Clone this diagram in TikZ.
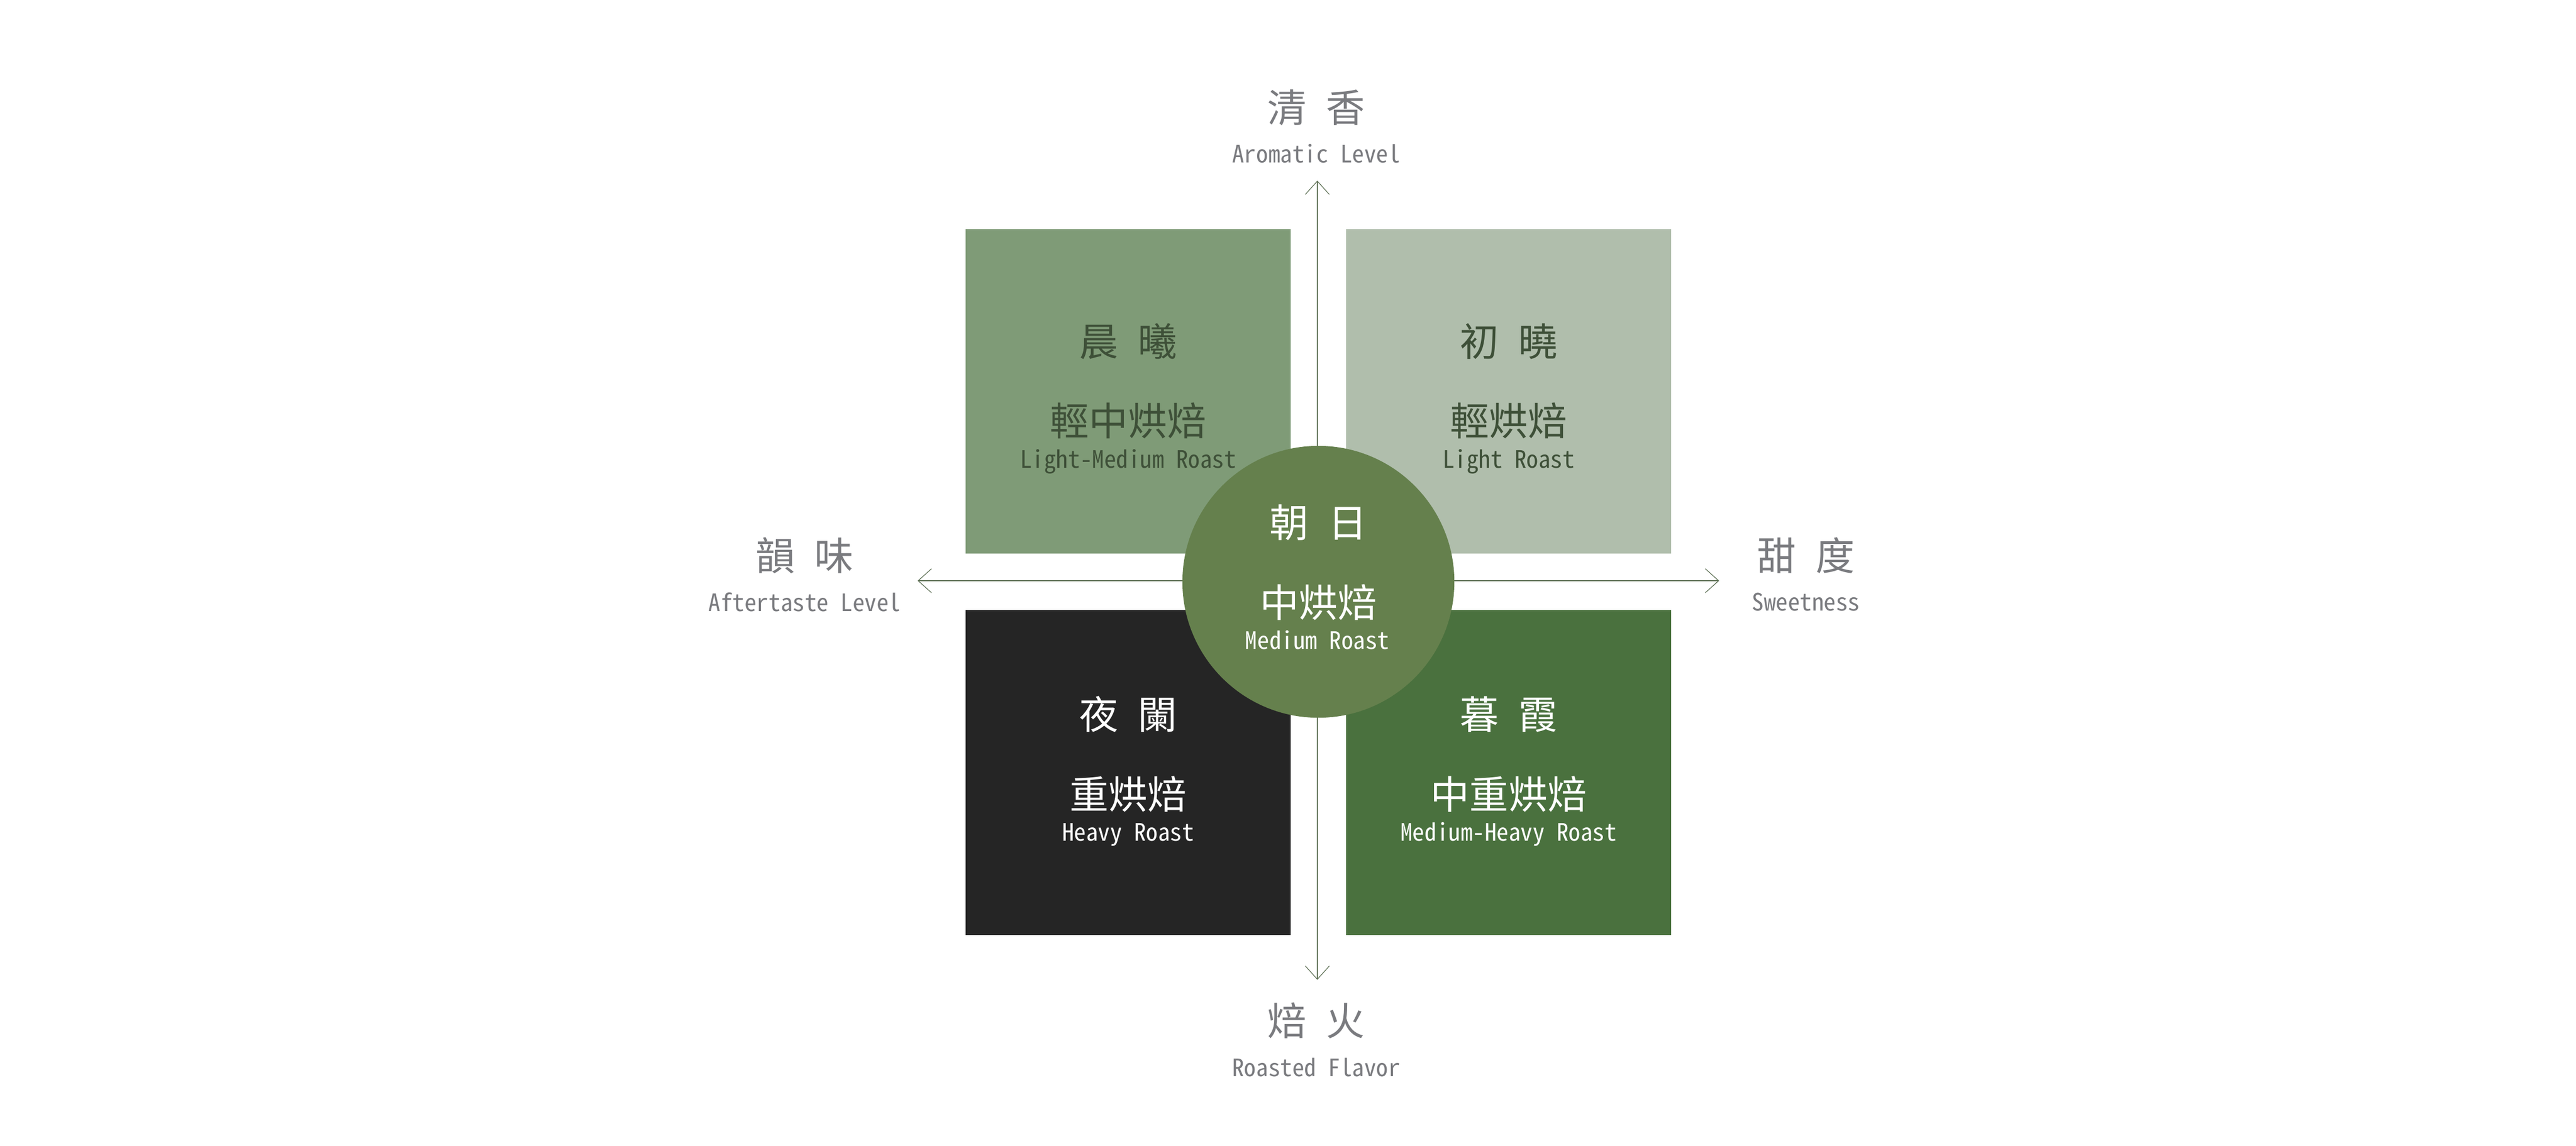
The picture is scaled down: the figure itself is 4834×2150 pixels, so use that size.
\documentclass[tikz,border=0pt]{standalone}
\usepackage{fontspec}
\usetikzlibrary{arrows.meta}
\newfontfamily\cjk{Noto Sans CJK TC}
\newfontfamily\hw[RawFeature=+hwid]{Noto Sans CJK TC}
\definecolor{tlcol}{HTML}{7F9B77}
\definecolor{trcol}{HTML}{B0BEAC}
\definecolor{blcol}{HTML}{252525}
\definecolor{brcol}{HTML}{4A713E}
\definecolor{midcol}{HTML}{65804D}
\definecolor{dktxt}{HTML}{3E5038}
\definecolor{labgray}{HTML}{7A7B7F}
\definecolor{axcol}{HTML}{5B6E52}
\tikzset{
  cjkT/.style={inner sep=0pt, outer sep=0pt, anchor=center, font=\cjk\fontsize{20.8pt}{24pt}\selectfont},
  latT/.style={inner sep=0pt, outer sep=0pt, anchor=base, font=\hw\fontsize{12.8pt}{15pt}\selectfont},
  labT/.style={text=labgray},
  darkT/.style={text=dktxt},
  whiteT/.style={text=white},
  quad/.style={draw=none, inner sep=0pt, outer sep=0pt, minimum width=6.1cm, minimum height=6.09cm},
  axisline/.style={draw=axcol, line width=0.35pt, {Straight Barb[length=0.25cm,width=0.45cm,line width=0.35pt]}-{Straight Barb[length=0.25cm,width=0.45cm,line width=0.35pt]}}
}
\newcommand{\csp}{\hspace{0.5em}}
\begin{document}
\begin{tikzpicture}[x=0.01cm,y=-0.01cm]
\useasboundingbox (0,0) rectangle (4834,2150);
\fill[white] (0,0) rectangle (4834,2150);

% axis end points
\coordinate (aTop) at (2472,339);
\coordinate (aBot) at (2472,1839);
\coordinate (aL) at (1722,1090);
\coordinate (aR) at (3226,1090);
\draw[axisline] (aBot) -- (aTop);
\draw[axisline] (aL) -- (aR);

% quadrants
\node[quad, fill=tlcol] (tl) at (2117,734.5) {};
\node[quad, fill=trcol] (tr) at (2831,734.5) {};
\node[quad, fill=blcol] (bl) at (2117,1450) {};
\node[quad, fill=brcol] (br) at (2831,1450) {};

% centre circle
\node[circle, fill=midcol, draw=none, inner sep=0pt, minimum size=5.1cm] (mid) at (2474,1092) {};

% axis labels
\node[cjkT, labT] (topZh) at (2470,201.5) {清\csp 香};
\node[latT, labT] (topEn) at (2470,305) {Aromatic Level};
\node[cjkT, labT] (botZh) at (2470,1916) {焙\csp 火};
\node[latT, labT] (botEn) at (2470,2020) {Roasted Flavor};
\node[cjkT, labT] (leftZh) at (1510,1042.5) {韻\csp 味};
\node[latT, labT] (leftEn) at (1510,1147) {Aftertaste Level};
\node[cjkT, labT] (rightZh) at (3389,1042.5) {甜\csp 度};
\node[latT, labT] (rightEn) at (3389,1146) {Sweetness};

% top-left
\node[cjkT, darkT] (tlA) at (2117,640.5) {晨\csp 曦};
\node[cjkT, darkT] (tlB) at (2117,790) {輕中烘焙};
\node[latT, darkT] (tlC) at (2117,878) {Light-Medium Roast};
% top-right
\node[cjkT, darkT] (trA) at (2831,640.5) {初\csp 曉};
\node[cjkT, darkT] (trB) at (2831,790) {輕烘焙};
\node[latT, darkT] (trC) at (2831,878) {Light Roast};
% bottom-left
\node[cjkT, whiteT] (blA) at (2117,1341) {夜\csp 闌};
\node[cjkT, whiteT] (blB) at (2117,1490.5) {重烘焙};
\node[latT, whiteT] (blC) at (2117,1578) {Heavy Roast};
% bottom-right
\node[cjkT, whiteT] (brA) at (2831,1341) {暮\csp 霞};
\node[cjkT, whiteT] (brB) at (2831,1490.5) {中重烘焙};
\node[latT, whiteT] (brC) at (2831,1578) {Medium-Heavy Roast};
% centre
\node[cjkT, whiteT] (mA) at (2474,980.5) {朝\csp 日};
\node[cjkT, whiteT] (mB) at (2474,1131) {中烘焙};
\node[latT, whiteT] (mC) at (2472,1218) {Medium Roast};
\end{tikzpicture}
\end{document}
